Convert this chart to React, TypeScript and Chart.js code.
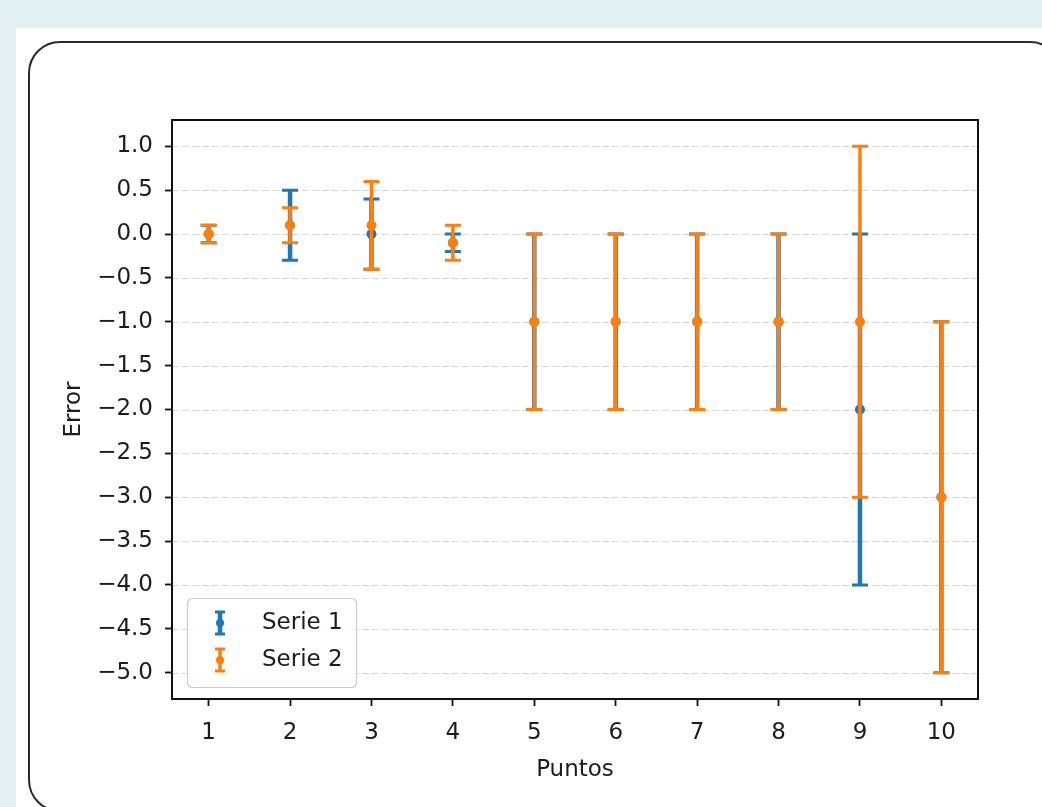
import React, { useEffect, useRef } from 'react';
import { Chart, registerables } from 'chart.js';

Chart.register(...registerables);

// ---- data ----
const puntos = [1, 2, 3, 4, 5, 6, 7, 8, 9, 10];
const serie1Values = [0, 0.1, 0, -0.1, -1, -1, -1, -1, -2, -3];
const serie1Errors = [0.1, 0.4, 0.4, 0.1, 1, 1, 1, 1, 2, 2];
const serie2Values = [0, 0.1, 0.1, -0.1, -1, -1, -1, -1, -1, -3];
const serie2Errors = [0.1, 0.2, 0.5, 0.2, 1, 1, 1, 1, 2, 2];
const seriesLabels = ['Serie 1', 'Serie 2'];
const xTitle = 'Puntos';
const yTitle = 'Error';

const BLUE = '#1f77b4';
const ORANGE = '#ff7f0e';
const FONT = "'DejaVu Sans', sans-serif";
const TEXT = '#1c1c1c';

const fmtY = (v: number) => {
  const r = Math.round(v * 10) / 10;
  if (Math.abs(r) < 1e-9) return '0.0';
  return (r < 0 ? '\u2212' : '') + Math.abs(r).toFixed(1);
};

const errorBarPlugin = {
  id: 'errorBars',
  beforeDatasetDraw(chart: any, args: any) {
    const ds = chart.data.datasets[args.index];
    const errs: number[] = ds.errors;
    if (!errs) return;
    const y = chart.scales.y;
    const ctx = chart.ctx;
    ctx.save();
    ctx.strokeStyle = ds.borderColor;
    ctx.lineCap = 'butt';
    args.meta.data.forEach((el: any, i: number) => {
      const v = ds.data[i].y;
      const top = y.getPixelForValue(v + errs[i]);
      const bot = y.getPixelForValue(v - errs[i]);
      const x = el.x;
      ctx.lineWidth = ds.errLineWidth;
      ctx.beginPath();
      ctx.moveTo(x, top);
      ctx.lineTo(x, bot);
      ctx.stroke();
      ctx.lineWidth = 3;
      ctx.beginPath();
      ctx.moveTo(x - 8, top);
      ctx.lineTo(x + 8, top);
      ctx.moveTo(x - 8, bot);
      ctx.lineTo(x + 8, bot);
      ctx.stroke();
    });
    ctx.restore();
  },
};

const gridFramePlugin = {
  id: 'gridFrame',
  beforeDatasetsDraw(chart: any) {
    const { ctx, chartArea: a } = chart;
    const y = chart.scales.y;
    ctx.save();
    ctx.strokeStyle = '#d6d6d6';
    ctx.lineWidth = 1;
    ctx.setLineDash([7, 3]);
    y.ticks.forEach((t: any) => {
      const py = Math.round(y.getPixelForValue(t.value)) + 0.5;
      ctx.beginPath();
      ctx.moveTo(a.left, py);
      ctx.lineTo(a.right, py);
      ctx.stroke();
    });
    ctx.restore();
  },
  afterDraw(chart: any) {
    const { ctx, chartArea: a } = chart;
    ctx.save();
    ctx.strokeStyle = '#111';
    ctx.lineWidth = 2;
    ctx.strokeRect(a.left, a.top, a.right - a.left, a.bottom - a.top);
    ctx.restore();
  },
};

const legendPlugin = {
  id: 'mplLegend',
  afterDraw(chart: any) {
    const { ctx, chartArea: a } = chart;
    const w = 169;
    const h = 89;
    const left = a.left + 15;
    const top = a.bottom - 12 - h;
    ctx.save();
    ctx.fillStyle = 'rgba(255,255,255,0.85)';
    ctx.strokeStyle = '#cccccc';
    ctx.lineWidth = 1.2;
    ctx.beginPath();
    (ctx as any).roundRect(left + 0.5, top + 0.5, w, h, 5);
    ctx.fill();
    ctx.stroke();
    const items = [
      { label: seriesLabels[0], color: BLUE, lw: 4.5 },
      { label: seriesLabels[1], color: ORANGE, lw: 3.5 },
    ];
    items.forEach((it, i) => {
      const cy = top + 25 + i * 37;
      const cx = left + 33;
      ctx.strokeStyle = it.color;
      ctx.lineWidth = it.lw;
      ctx.beginPath();
      ctx.moveTo(cx, cy - 11);
      ctx.lineTo(cx, cy + 11);
      ctx.stroke();
      ctx.lineWidth = 3;
      ctx.beginPath();
      ctx.moveTo(cx - 5, cy - 11);
      ctx.lineTo(cx + 5, cy - 11);
      ctx.moveTo(cx - 5, cy + 11);
      ctx.lineTo(cx + 5, cy + 11);
      ctx.stroke();
      ctx.fillStyle = it.color;
      ctx.beginPath();
      ctx.arc(cx, cy, 4, 0, Math.PI * 2);
      ctx.fill();
      ctx.fillStyle = TEXT;
      ctx.font = `23px ${FONT}`;
      ctx.textBaseline = 'middle';
      ctx.textAlign = 'left';
      ctx.fillText(it.label, left + 75, cy);
    });
    ctx.restore();
  },
};

export default function App() {
  const ref = useRef<HTMLCanvasElement | null>(null);

  useEffect(() => {
    if (!ref.current) return;
    const chart = new Chart(ref.current, {
      type: 'scatter',
      data: {
        datasets: [
          {
            label: seriesLabels[1],
            data: puntos.map((x, i) => ({ x, y: serie2Values[i] })),
            errors: serie2Errors,
            errLineWidth: 3.5,
            backgroundColor: ORANGE,
            borderColor: ORANGE,
            pointRadius: 5,
            pointBorderWidth: 0,
            showLine: false,
            order: 1,
          } as any,
          {
            label: seriesLabels[0],
            data: puntos.map((x, i) => ({ x, y: serie1Values[i] })),
            errors: serie1Errors,
            errLineWidth: 4.5,
            backgroundColor: BLUE,
            borderColor: BLUE,
            pointRadius: 5,
            pointBorderWidth: 0,
            showLine: false,
            order: 2,
          } as any,
        ],
      },
      options: {
        animation: false,
        responsive: false,
        devicePixelRatio: 1,
        layout: { padding: { left: 56, top: 120, right: 64, bottom: 19 } },
        plugins: {
          legend: { display: false },
          tooltip: { enabled: false },
        },
        scales: {
          x: {
            type: 'linear',
            min: 0.55,
            max: 10.45,
            afterFit: (s: any) => {
              s.height = 89;
            },
            border: { display: false },
            grid: {
              drawOnChartArea: false,
              drawTicks: true,
              tickLength: 7,
              tickColor: '#111',
              tickWidth: 1.8,
            },
            ticks: {
              stepSize: 1,
              includeBounds: false,
              autoSkip: false,
              maxRotation: 0,
              padding: 13,
              color: TEXT,
              font: { family: FONT, size: 23 },
              callback: (v: any) => String(v),
            },
            title: {
              display: true,
              text: xTitle,
              color: TEXT,
              font: { family: FONT, size: 23 },
              padding: { top: 4, bottom: 4 },
            },
          },
          y: {
            type: 'linear',
            min: -5.3,
            max: 1.3,
            afterFit: (s: any) => {
              s.width = 116;
            },
            border: { display: false },
            grid: {
              drawOnChartArea: false,
              drawTicks: true,
              tickLength: 7,
              tickColor: '#111',
              tickWidth: 1.8,
            },
            ticks: {
              stepSize: 0.5,
              includeBounds: false,
              autoSkip: false,
              padding: 12,
              color: TEXT,
              font: { family: FONT, size: 23 },
              callback: (v: any) => fmtY(Number(v)),
            },
            title: {
              display: true,
              text: yTitle,
              color: TEXT,
              font: { family: FONT, size: 23 },
              padding: { top: 4, bottom: 4 },
            },
          },
        },
      } as any,
      plugins: [errorBarPlugin, gridFramePlugin, legendPlugin],
    });
    return () => chart.destroy();
  }, []);

  return (
    <div
      style={{
        position: 'fixed',
        left: 0,
        top: 0,
        width: 1042,
        height: 807,
        overflow: 'hidden',
        background: '#e2f0f2',
      }}
    >
      <div
        style={{
          position: 'absolute',
          left: 16,
          top: 28,
          width: 1100,
          height: 900,
          background: '#ffffff',
        }}
      />
      <div
        style={{
          position: 'absolute',
          left: 28,
          top: 41,
          width: 1034,
          height: 771,
          boxSizing: 'border-box',
          border: '2.5px solid #2a2a2a',
          borderRadius: 32,
        }}
      />
      <canvas
        ref={ref}
        width={1042}
        height={807}
        style={{ position: 'absolute', left: 0, top: 0, width: 1042, height: 807 }}
      />
    </div>
  );
}
